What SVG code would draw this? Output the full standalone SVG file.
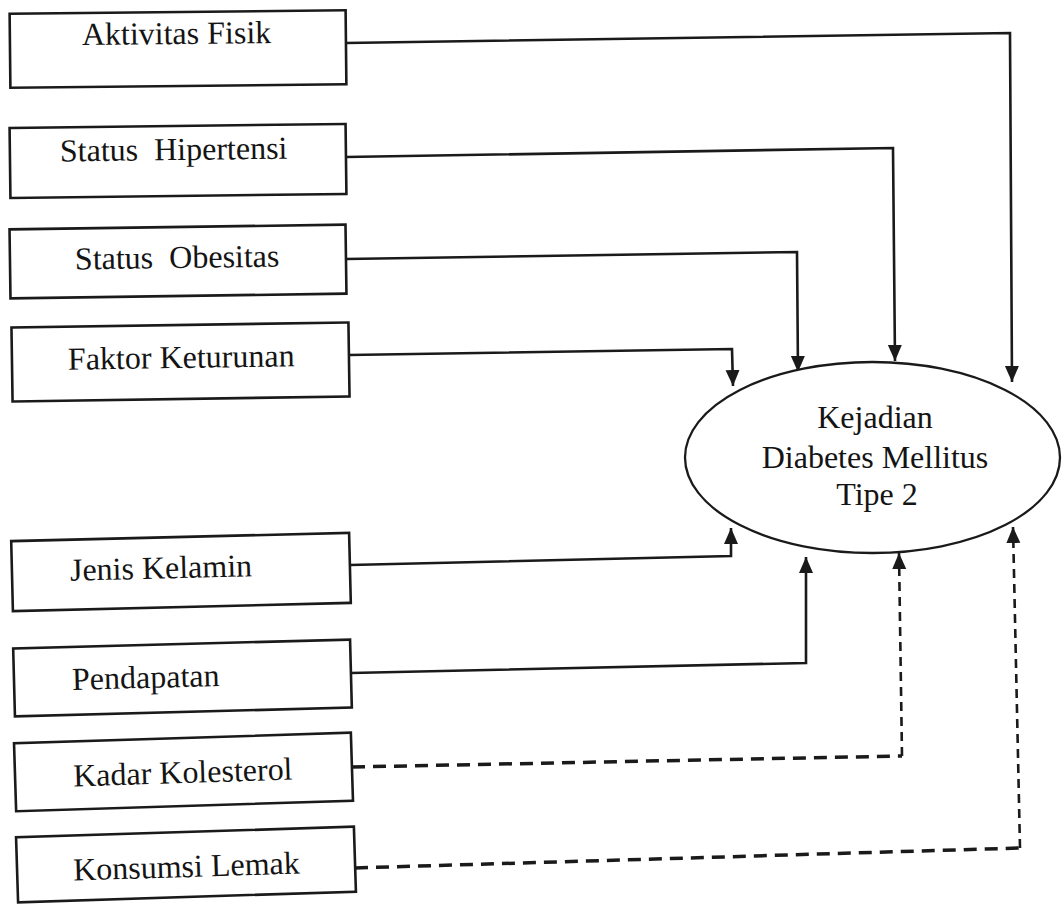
<svg xmlns="http://www.w3.org/2000/svg" width="1062" height="904" viewBox="0 0 1062 904">
<style>
.box{fill:#fff;stroke:#1a1a1a;stroke-width:2.6}
.lbl{font-family:"Liberation Serif","Times New Roman",serif;font-size:32px;fill:#141414}
.ctr{text-anchor:middle}
.con{fill:none;stroke:#1a1a1a;stroke-width:2.6}
.dash{fill:none;stroke:#1a1a1a;stroke-width:3.5;stroke-dasharray:13 8}
.vdash{fill:none;stroke:#1a1a1a;stroke-width:2.6;stroke-dasharray:9 6}
</style>
<defs>
<marker id="arr" markerUnits="userSpaceOnUse" markerWidth="18" markerHeight="16" refX="16" refY="7" orient="auto">
<path d="M0,0 L16,7 L0,14 z" fill="#1a1a1a" stroke="none"/>
</marker>
</defs>
<rect width="1062" height="904" fill="#fff"/>
<g id="connectors">
<path class="con" d="M346,43 L1010,33 L1012,382" marker-end="url(#arr)"/>
<path class="con" d="M346,157 L893,148 L895,361" marker-end="url(#arr)"/>
<path class="con" d="M346,259 L797,252 L798,372" marker-end="url(#arr)"/>
<path class="con" d="M349,355 L732,349 L733,386" marker-end="url(#arr)"/>
<path class="con" d="M350,565 L731,556 L731,528" marker-end="url(#arr)"/>
<path class="con" d="M351,673 L806,663 L806,557" marker-end="url(#arr)"/>
<path class="dash" d="M352,767 L902,756"/>
<path class="vdash" d="M902,756 L899,553" marker-end="url(#arr)"/>
<path class="dash" d="M355,868 L1020,848"/>
<path class="vdash" d="M1020,848 L1013,527" marker-end="url(#arr)"/>
</g>
<g id="n1" transform="rotate(-0.6 178 49)">
<rect class="box" x="10" y="12" width="336" height="74"/>
<text class="lbl" x="82" y="44">Aktivitas Fisik</text>
</g>
<g id="n2" transform="rotate(-0.7 178 161)">
<rect class="box" x="10" y="126" width="336" height="70"/>
<text class="lbl" x="60" y="160" xml:space="preserve">Status  Hipertensi</text>
</g>
<g id="n3" transform="rotate(-0.8 178 262)">
<rect class="box" x="10" y="227" width="336" height="69"/>
<text class="lbl" x="75" y="268" xml:space="preserve">Status  Obesitas</text>
</g>
<g id="n4" transform="rotate(-0.85 180 362)">
<rect class="box" x="12" y="325" width="337" height="74"/>
<text class="lbl" x="68" y="368">Faktor Keturunan</text>
</g>
<g id="n5" transform="rotate(-1.4 181 572)">
<rect class="box" x="12" y="537" width="338" height="70"/>
<text class="lbl" x="70" y="578">Jenis Kelamin</text>
</g>
<g id="n6" transform="rotate(-1.5 182 678)">
<rect class="box" x="14" y="644" width="337" height="68"/>
<text class="lbl" x="72" y="687">Pendapatan</text>
</g>
<g id="n7" transform="rotate(-1.8 183 772)">
<rect class="box" x="15" y="738" width="337" height="68"/>
<text class="lbl" x="73" y="783">Kadar Kolesterol</text>
</g>
<g id="n8" transform="rotate(-1.8 186 865)">
<rect class="box" x="17" y="832" width="338" height="65"/>
<text class="lbl" x="73" y="877">Konsumsi Lemak</text>
</g>
<g id="target">
<ellipse cx="872.5" cy="457.5" rx="187.5" ry="95.5" fill="#fff" stroke="#1a1a1a" stroke-width="2.3"/>
<text class="lbl ctr" x="875" y="428">Kejadian</text>
<text class="lbl ctr" x="875" y="468">Diabetes Mellitus</text>
<text class="lbl ctr" x="877" y="505">Tipe 2</text>
</g>
</svg>
